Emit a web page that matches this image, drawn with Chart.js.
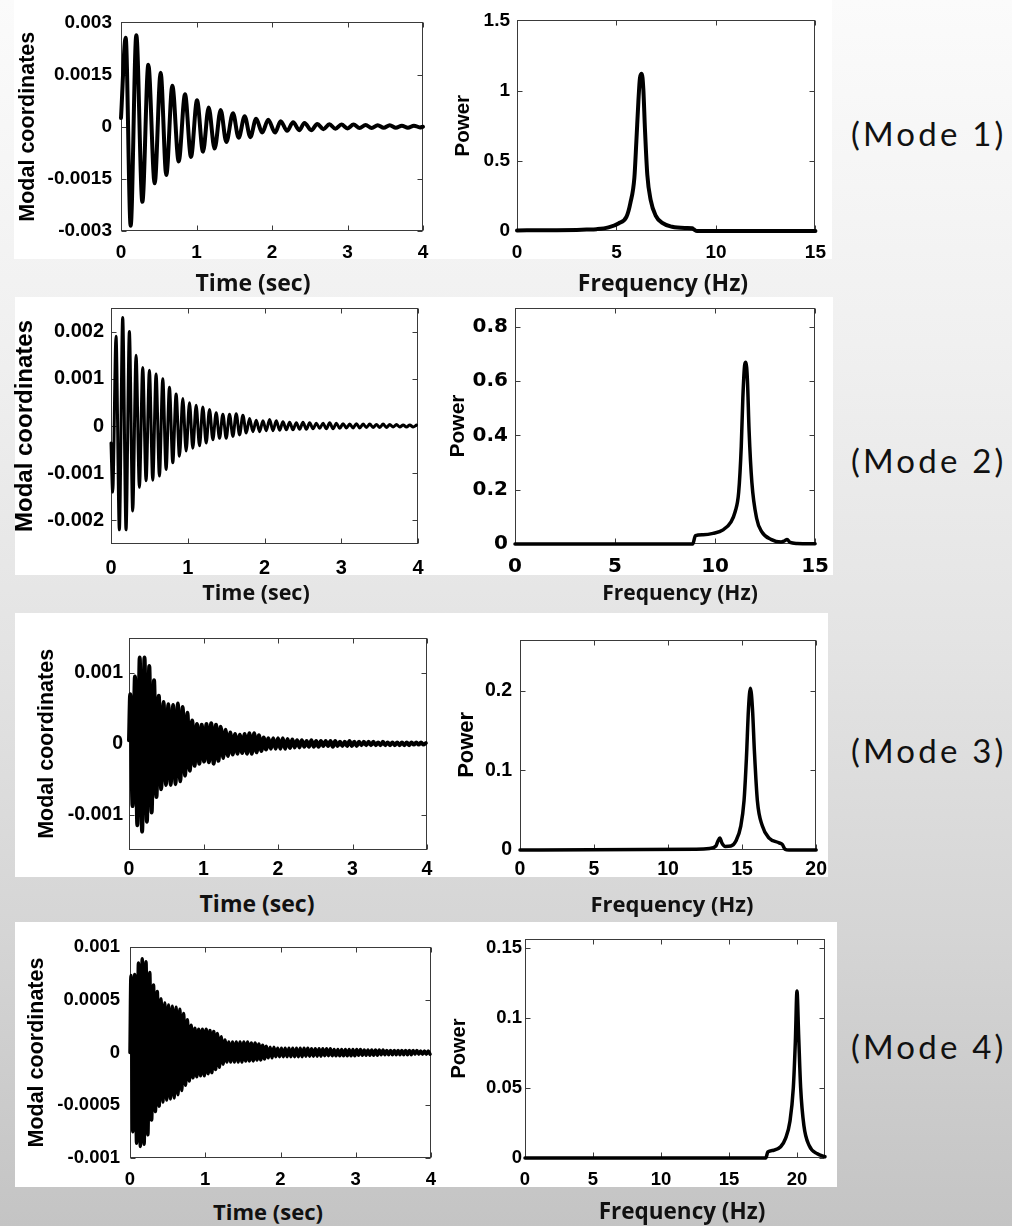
<!DOCTYPE html>
<html><head><meta charset="utf-8">
<script src="https://cdn.jsdelivr.net/npm/chart.js@4.4.1/dist/chart.umd.min.js"></script>
<style>
html,body{margin:0;padding:0;}
body{width:1012px;height:1226px;position:relative;overflow:hidden;
 background:linear-gradient(to bottom,#fbfbfb 0%,#f0f0f0 28%,#e4e4e4 52%,#d5d5d5 76%,#c4c4c4 100%);}
.panel{position:absolute;background:#fff;}
.plot{position:absolute;}
.xt{position:absolute;transform:translate(-50%,-50%);font-family:'Open Sans';font-weight:700;color:#111;white-space:nowrap;line-height:1;}
.mode{position:absolute;font-family:'Lato';font-size:33px;letter-spacing:3.2px;color:#111;transform:translateY(-50%);white-space:nowrap;line-height:1;}
</style></head><body>
<script>
// ---------------- DATA ----------------
const timeTicks = [0, 1, 2, 3, 4];
const timeTickLabels = ['0', '1', '2', '3', '4'];

// Mode 1 time response: extrema (time in s, modal coordinate)
const m1Time = [0,0.062,0.128,0.203,0.283,0.362,0.446,0.525,0.60,0.68,0.764,0.848,0.927,1.007,1.086,1.161,1.24,1.32,1.395,1.483,1.558,1.638,1.713,1.79,1.87,1.95,2.04,2.115,2.2,2.28,2.36,2.43,2.52,2.6,2.68,2.76,2.84,2.92,3.0,3.08,3.16,3.24,3.32,3.40,3.48,3.56,3.64,3.72,3.80,3.88,3.96,4.0];
const m1Value = [0.00025,0.00256,-0.00285,0.00263,-0.00216,0.00178,-0.00163,0.00155,-0.00139,0.00118,-0.001,0.00093,-0.00087,0.00076,-0.00072,0.00055,-0.00063,0.00048,-0.00044,0.00039,-0.00032,0.0003,-0.0003,0.00023,-0.00017,0.0002,-0.00017,0.00016,-0.00012,0.00013,-0.0001,0.00011,-0.0001,0.00008,-0.00007,0.00007,-0.00006,0.00006,-0.00005,0.00006,-0.00004,0.00005,-0.00004,0.00004,-0.00003,0.00004,-0.00003,0.00003,-0.00003,0.00003,-0.00002,0];
const m1YTicks = [-0.003,-0.0015,0,0.0015,0.003];
const m1YTickLabels = ['-0.003','-0.0015','0','0.0015','0.003'];

// Mode 2 time response: start value, then successive extrema every half period
const m2Start = -0.00036;
const m2FirstExtremumTime = 0.022;
const m2HalfPeriod = 0.0435;
const m2Extrema = [-0.0014,0.0019,-0.0022,0.0023,-0.0022,0.002,-0.0018,0.0015,-0.0013,0.00124,-0.00116,0.00118,-0.00115,0.0011,-0.00106,0.001,-0.00092,0.00082,-0.00078,0.00068,-0.00064,0.00058,-0.00053,0.00049,-0.00047,0.00044,-0.00042,0.0004,-0.00036,0.00035,-0.00029,0.00028,-0.00026,0.00025,-0.00026,0.00025,-0.00022,0.00026,-0.00019,0.00023,-0.00015,0.00016,-0.00012,0.00012,-0.00012,0.00011,-0.0001,0.00014,-0.0001,0.00011,-0.00009,0.00009,-0.00008,0.00008,-0.00008,0.00007,-0.00007,0.00008,-0.00007,0.00007,-0.00006,0.00006,-0.00005,0.00006,-0.00006,0.00007,-0.00006,0.00006,-0.00005,0.00005,-0.00004,0.00004,-0.00004,0.00005,-0.00004,0.00004,-0.00003,0.00004,-0.00003,0.00003,-0.00003,0.00004,-0.00003,0.00003,-0.00002,0.00003,-0.00002,0.00002,-0.00002,0.00002,-0.00002,0.00002];
const m2YTicks = [-0.002,-0.001,0,0.001,0.002];
const m2YTickLabels = ['-0.002','-0.001','0','0.001','0.002'];

// Mode 3 time response
const m3Start = 0.00005;
const m3FirstExtremumTime = 0.016;
const m3HalfPeriod = 0.032;
const m3Extrema = [0.0007,-0.00088,0.00095,-0.00115,0.00122,-0.00124,0.00122,-0.0011,0.0011,-0.00097,0.0009,-0.00075,0.00068,-0.00064,0.00059,-0.00058,0.00056,-0.00058,0.00055,-0.00057,0.00057,-0.00053,0.00052,-0.00045,0.00044,-0.00038,0.00033,-0.00031,0.00028,-0.00028,0.00027,-0.00025,0.00028,-0.00026,0.00029,-0.00028,0.00027,-0.00024,0.00024,-0.0002,0.0002,-0.00017,0.00016,-0.00015,0.00014,-0.00014,0.00013,-0.00013,0.00014,-0.00014,0.00015,-0.00014,0.00015,-0.00012,0.00012,-0.0001,0.00009,-0.00008,0.00008,-0.00007,0.00008,-0.00007,0.00008,-0.00007,0.00008,-0.00007,0.00007,-0.00006,0.00006,-0.00005,0.00005,-0.00005,0.00005,-0.00004,0.00004,-0.00004,0.00005,-0.00004,0.00004,-0.00004,0.00004,-0.00003,0.00004,-0.00003,0.00004,-0.00004,0.00004,-0.00003,0.00003,-0.00003,0.00003,-0.00003,0.00004,-0.00003,0.00003,-0.00003,0.00003,-0.00002,0.00003,-0.00002,0.00003,-0.00002,0.00003,-0.00002,0.00002,-0.00002,0.00003,-0.00002,0.00002,-0.00002,0.00002,-0.00002,0.00002,-0.00002,0.00002,-0.00002,0.00002,-0.00002,0.00002,-0.00001,0.00002,-0.00001,0.00002,-0.00001,0.00001];
const m3YTicks = [-0.001,0,0.001];
const m3YTickLabels = ['-0.001','0','0.001'];

// Mode 4 time response
const m4Start = 0;
const m4FirstExtremumTime = 0.0125;
const m4HalfPeriod = 0.025;
const m4Extrema = [0.00073,-0.00075,0.00074,-0.00086,0.00085,-0.00089,0.00089,-0.00087,0.00086,-0.00078,
0.00076,-0.00064,0.00064,-0.00056,0.00058,-0.00051,0.00051,-0.00047,0.00047,-0.00045,
0.00045,-0.00044,0.00044,-0.00043,0.00043,-0.0004,0.00041,-0.00036,0.00037,-0.00031,
0.00031,-0.00027,0.00026,-0.00024,0.00023,-0.00023,0.00022,-0.00022,0.00022,-0.00022,
0.00022,-0.0002,0.00021,-0.00019,0.0002,-0.00016,0.00018,-0.00014,0.00015,-0.00011,
0.00012,-0.00009,0.0001,-0.00009,0.0001,-0.00009,0.0001,-0.00009,0.0001,-0.00009,
0.0001,-0.00008,0.0001,-0.00008,0.00009,-0.00008,0.00009,-0.00007,0.00008,-0.00007,
0.00007,-0.00006,0.00006,-0.00005,0.00005,-0.00005,0.00005,-0.00004,0.00004,-0.00004,
0.00004,-0.00004,0.00004,-0.00004,0.00004,-0.00004,0.00004,-0.00004,0.00004,-0.00004,
0.00004,-0.00004,0.00004,-0.000035,0.00004,-0.000035,0.000035,-0.000035,0.000035,-0.000035,
0.000035,-0.000035,0.000035,-0.00003,0.000035,-0.00003,0.000035,-0.00003,0.00003,-0.00003,
0.00003,-0.00003,0.00003,-0.00003,0.00003,-0.00003,0.00003,-0.00003,0.00003,-0.00003,
0.00003,-0.000025,0.00003,-0.000025,0.000025,-0.000025,0.000025,-0.000025,0.000025,-0.000025,
0.000025,-0.000025,0.000025,-0.00002,0.000025,-0.00002,0.00002,-0.00002,0.00002,-0.00002,
0.00002,-0.00002,0.00002,-0.00002,0.00002,-0.00002,0.00002,-0.00002,0.00002,-0.00002,
0.00002,-0.000015,0.00002,-0.000015,0.000015,-0.000015,0.000015,-0.000015,0.000015,-0.000015];
const m4YTicks = [-0.001,-0.0005,0,0.0005,0.001];
const m4YTickLabels = ['-0.001','-0.0005','0','0.0005','0.001'];

// Power spectra (frequency in Hz, power)
const s1Freq = [0,1,2,3,3.5,4,4.6,5.1,5.5,5.7,5.9,6.0,6.1,6.18,6.27,6.35,6.43,6.55,6.72,6.97,7.3,7.8,8.5,8.8,8.9,9.05,10,15];
const s1Power = [0.004,0.005,0.006,0.008,0.01,0.013,0.026,0.054,0.10,0.20,0.38,0.64,0.92,1.09,1.12,1.01,0.73,0.40,0.22,0.11,0.058,0.03,0.021,0.019,0.01,0,0,0];
const s1XTicks = [0,5,10,15]; const s1XTickLabels = ['0','5','10','15'];
const s1YTicks = [0,0.5,1,1.5]; const s1YTickLabels = ['0','0.5','1','1.5'];

const s2Freq = [0,8.88,9.02,9.4,9.9,10.4,10.8,11.0,11.18,11.31,11.39,11.48,11.54,11.62,11.7,11.84,12.08,12.33,12.82,13.3,13.48,13.6,13.75,14.1,15];
const s2Power = [0,0,0.031,0.034,0.039,0.052,0.082,0.118,0.19,0.36,0.54,0.66,0.67,0.6,0.42,0.227,0.094,0.046,0.016,0.007,0.012,0.017,0.006,0.002,0.001];
const s2XTicks = [0,5,10,15]; const s2XTickLabels = ['0','5','10','15'];
const s2YTicks = [0,0.2,0.4,0.6,0.8]; const s2YTickLabels = ['0','0.2','0.4','0.6','0.8'];

const s3Freq = [0,11.9,12.8,13.23,13.36,13.5,13.63,13.86,14.24,14.57,14.91,15.13,15.29,15.43,15.56,15.7,15.83,16.03,16.37,16.82,17.5,17.71,17.9,18.16,20];
const s3Power = [0,0.001,0.002,0.005,0.011,0.015,0.009,0.0045,0.005,0.011,0.03,0.062,0.115,0.177,0.203,0.177,0.124,0.062,0.03,0.015,0.009,0.007,0.001,0,0];
const s3XTicks = [0,5,10,15,20]; const s3XTickLabels = ['0','5','10','15','20'];
const s3YTicks = [0,0.1,0.2]; const s3YTickLabels = ['0','0.1','0.2'];

const s4Freq = [0,17.7,17.86,18.3,18.8,19.16,19.48,19.73,19.88,20.0,20.12,20.27,20.51,20.89,21.5,22.06];
const s4Power = [0,0,0.0043,0.0055,0.008,0.014,0.026,0.05,0.083,0.119,0.088,0.05,0.023,0.009,0.003,0.001];
const s4XTicks = [0,5,10,15,20]; const s4XTickLabels = ['0','5','10','15','20'];
const s4YTicks = [0,0.05,0.1,0.15]; const s4YTickLabels = ['0','0.05','0.1','0.15'];

const modeLabels = ['(Mode 1)','(Mode 2)','(Mode 3)','(Mode 4)'];
const timeTitle = 'Time (sec)';
const freqTitle = 'Frequency (Hz)';
const modalTitle = 'Modal coordinates';
const powerTitle = 'Power';

// ---------------- helpers ----------------
function pairs(xs, ys){ return xs.map((x,i)=>({x:x, y:ys[i]})); }
function extremaSeries(start, t0, half, ext){
  const pts=[{x:0,y:start}];
  ext.forEach((v,i)=>pts.push({x:t0+i*half, y:v}));
  return pts;
}

const framePlugin = {
  id:'frame',
  beforeDatasetsDraw(chart){
    const {ctx, chartArea:a, scales} = chart;
    const xs=scales.x, ys=scales.y;
    ctx.save();
    ctx.strokeStyle='#3a3a3a'; ctx.lineWidth=1;
    const L=Math.round(a.left)+0.5, R=Math.round(a.right)-0.5, T=Math.round(a.top)+0.5, B=Math.round(a.bottom)-0.5;
    ctx.strokeRect(L,T,R-L,B-T);
    ctx.beginPath();
    const tl=5;
    xs.ticks.forEach(t=>{const p=Math.round(xs.getPixelForValue(t.value))+0.5; ctx.moveTo(p,B); ctx.lineTo(p,B-tl); ctx.moveTo(p,T); ctx.lineTo(p,T+tl);});
    ys.ticks.forEach(t=>{const p=Math.round(ys.getPixelForValue(t.value))+0.5; ctx.moveTo(L,p); ctx.lineTo(L+tl,p); ctx.moveTo(R,p); ctx.lineTo(R-tl,p);});
    ctx.stroke();
    ctx.restore();
  }
};

function addPanel(l,t,w,h){const d=document.createElement('div');d.className='panel';d.style.left=l+'px';d.style.top=t+'px';d.style.width=w+'px';d.style.height=h+'px';document.body.appendChild(d);}
function addText(cls,txt,x,y,size){const d=document.createElement('div');d.className=cls;d.textContent=txt;d.style.left=x+'px';d.style.top=y+'px';if(size)d.style.fontSize=size+'px';document.body.appendChild(d);}

function makePlot(s){
  const [L,T,R,B]=s.box;
  const cl=Math.round(s.titleX-0.6*s.titleSize);
  const ct=T-14;
  const cw=R+18-cl;
  const ch=B+36-ct;
  const yW=L-cl;
  const div=document.createElement('div');div.className='plot';
  div.style.left=cl+'px';div.style.top=ct+'px';div.style.width=cw+'px';div.style.height=ch+'px';
  const cv=document.createElement('canvas');cv.width=cw;cv.height=ch;cv.style.width=cw+'px';cv.style.height=ch+'px';
  div.appendChild(cv);document.body.appendChild(div);
  const tickFont={family:s.tickFamily||'Liberation Sans',size:s.tickSize,weight:'bold'};
  new Chart(cv,{
    type:'line',
    data:{datasets:[{data:s.points,borderColor:'#000',borderWidth:s.lw,pointRadius:0,fill:false,
      cubicInterpolationMode:'monotone',clip:false,borderJoinStyle:'round',borderCapStyle:'round'}]},
    options:{
      responsive:false,animation:false,events:[],
      layout:{padding:{top:14,right:18,left:0,bottom:0}},
      plugins:{legend:{display:false},tooltip:{enabled:false}},
      scales:{
        x:{type:'linear',min:s.xMin,max:s.xMax,grid:{display:false,drawTicks:false},border:{display:false},
          ticks:{font:tickFont,color:'#000',padding:s.xPad,maxRotation:0,minRotation:0,autoSkip:false,
            callback:(v)=>s.xLabels[s.xTicks.indexOf(v)]},
          afterBuildTicks:sc=>{sc.ticks=s.xTicks.map(v=>({value:v}));},
          afterFit:sc=>{sc.height=36;}},
        y:{type:'linear',min:s.yMin,max:s.yMax,grid:{display:false,drawTicks:false},border:{display:false},
          ticks:{font:tickFont,color:'#000',padding:s.yPad,autoSkip:false,
            callback:(v)=>s.yLabels[s.yTicks.indexOf(v)]},
          afterBuildTicks:sc=>{sc.ticks=s.yTicks.map(v=>({value:v}));},
          afterFit:sc=>{sc.width=yW;},
          title:{display:true,text:s.yTitle,color:'#000',padding:0,
            font:{family:'Liberation Sans',size:s.titleSize,weight:'bold'}}}
      }
    },
    plugins:[framePlugin]
  });
}

// ---------------- page ----------------
addPanel(14,0,818,259);
addPanel(15,297,818,278);
addPanel(15,613,813,264);
addPanel(15,922,822,265);

makePlot({box:[121,16,423,231],points:pairs(m1Time,m1Value),lw:4,xMin:0,xMax:4,yMin:-0.003,yMax:0.003,
  xTicks:timeTicks,xLabels:timeTickLabels,yTicks:m1YTicks,yLabels:m1YTickLabels,
  yTitle:modalTitle,titleX:28,titleSize:21.5,tickSize:19,xPad:10,yPad:9});
makePlot({box:[517,16,818,231],points:pairs(s1Freq,s1Power),lw:4,xMin:0,xMax:15,yMin:0,yMax:1.5,
  xTicks:s1XTicks,xLabels:s1XTickLabels,yTicks:s1YTicks,yLabels:s1YTickLabels,
  yTitle:powerTitle,titleX:463,titleSize:20.5,tickSize:19,xPad:10,yPad:7});

makePlot({box:[111,303,418,544],points:extremaSeries(m2Start,m2FirstExtremumTime,m2HalfPeriod,m2Extrema),lw:3,xMin:0,xMax:4,yMin:-0.0025,yMax:0.0025,
  xTicks:timeTicks,xLabels:timeTickLabels,yTicks:m2YTicks,yLabels:m2YTickLabels,
  yTitle:modalTitle,titleX:25,titleSize:24,tickSize:20,xPad:12,yPad:7});
makePlot({box:[515,303,822,544],points:pairs(s2Freq,s2Power),lw:3.5,xMin:0,xMax:15,yMin:0,yMax:0.87,
  xTicks:s2XTicks,xLabels:s2XTickLabels,yTicks:s2YTicks,yLabels:s2YTickLabels,
  yTitle:powerTitle,titleX:459,titleSize:21,tickSize:20,tickFamily:'DejaVu Sans',xPad:11,yPad:7});

makePlot({box:[129,634,427,850],points:extremaSeries(m3Start,m3FirstExtremumTime,m3HalfPeriod,m3Extrema),lw:4,xMin:0,xMax:4,yMin:-0.0015,yMax:0.0015,
  xTicks:timeTicks,xLabels:timeTickLabels,yTicks:m3YTicks,yLabels:m3YTickLabels,
  yTitle:modalTitle,titleX:47,titleSize:21.5,tickSize:19.5,xPad:8,yPad:6});
makePlot({box:[520,634,817,850],points:pairs(s3Freq,s3Power),lw:3.5,xMin:0,xMax:20,yMin:0,yMax:0.264,
  xTicks:s3XTicks,xLabels:s3XTickLabels,yTicks:s3YTicks,yLabels:s3YTickLabels,
  yTitle:powerTitle,titleX:467,titleSize:22,tickSize:19.5,xPad:8,yPad:8});

makePlot({box:[130,940,431,1158],points:extremaSeries(m4Start,m4FirstExtremumTime,m4HalfPeriod,m4Extrema),lw:3.5,xMin:0,xMax:4,yMin:-0.001,yMax:0.001,
  xTicks:timeTicks,xLabels:timeTickLabels,yTicks:m4YTicks,yLabels:m4YTickLabels,
  yTitle:modalTitle,titleX:37,titleSize:21.5,tickSize:18.5,xPad:11,yPad:10});
makePlot({box:[525,939,825,1158],points:pairs(s4Freq,s4Power),lw:3.5,xMin:0,xMax:22.06,yMin:0,yMax:0.156,
  xTicks:s4XTicks,xLabels:s4XTickLabels,yTicks:s4YTicks,yLabels:s4YTickLabels,
  yTitle:powerTitle,titleX:459,titleSize:20,tickSize:18.5,xPad:11,yPad:3});

// x-axis titles (placed below the white panels as in the slide)
addText('xt',timeTitle,253,282,23);
addText('xt',freqTitle,663,282,23);
addText('xt',timeTitle,256,592,21.5);
addText('xt',freqTitle,680,592,21);
addText('xt',timeTitle,257,903,23);
addText('xt',freqTitle,672,903,22);
addText('xt',timeTitle,268,1211,22);
addText('xt',freqTitle,682,1211,22.5);

// mode labels
addText('mode',modeLabels[0],851,133);
addText('mode',modeLabels[1],851,460);
addText('mode',modeLabels[2],851,750);
addText('mode',modeLabels[3],851,1046);
</script>
</body></html>
